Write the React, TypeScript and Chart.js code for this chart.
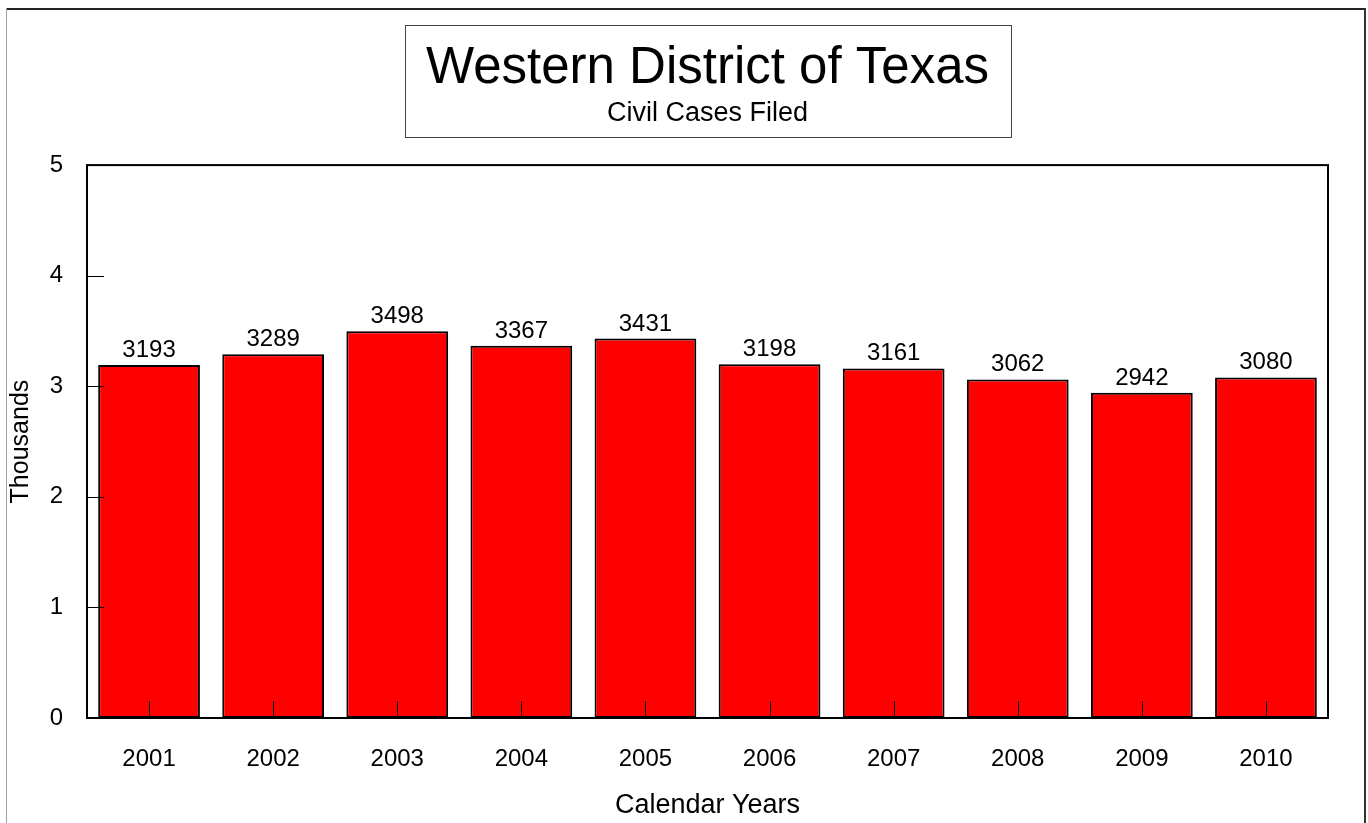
import React, { useEffect, useRef } from "react";
import { Chart, registerables } from "chart.js";

Chart.register(...registerables);

const years = ["2001", "2002", "2003", "2004", "2005", "2006", "2007", "2008", "2009", "2010"];
const casesFiled = [3193, 3289, 3498, 3367, 3431, 3198, 3161, 3062, 2942, 3080];
const yMin = 0;
const yMax = 5000;
const yStep = 1000;

const FONT = "'Liberation Sans', Arial, Helvetica, sans-serif";

const decorPlugin = {
  id: "decor",
  beforeDraw(chart: any) {
    const ctx = chart.ctx;
    const ca = chart.chartArea;
    ctx.save();
    ctx.fillStyle = "#fff";
    ctx.fillRect(0, 0, chart.width, chart.height);
    // outer frame
    ctx.fillStyle = "#222";
    ctx.fillRect(6, 8, 1360, 2);
    ctx.fillStyle = "#a0a0a0";
    ctx.fillRect(6, 8, 1, chart.height);
    ctx.fillStyle = "#333";
    ctx.fillRect(1364, 8, 2, chart.height);
    // title box
    const cx = (ca.left + ca.right) / 2;
    ctx.strokeStyle = "#444";
    ctx.lineWidth = 1;
    ctx.strokeRect(Math.round(cx - 303) + 0.5, 25.5, 606, 112);
    ctx.restore();
  },
  afterDatasetsDraw(chart: any) {
    const ctx = chart.ctx;
    const ca = chart.chartArea;
    const xs = chart.scales.x;
    const ys = chart.scales.y;
    ctx.save();
    // inside tick marks
    ctx.strokeStyle = "#000";
    ctx.lineWidth = 1;
    ctx.beginPath();
    ys.ticks.forEach((_t: any, i: number) => {
      const py = Math.round(ys.getPixelForTick(i)) + 0.5;
      ctx.moveTo(ca.left, py);
      ctx.lineTo(ca.left + 17, py);
    });
    xs.ticks.forEach((_t: any, i: number) => {
      const px = Math.round(xs.getPixelForTick(i)) + 0.5;
      ctx.moveTo(px, ca.bottom);
      ctx.lineTo(px, ca.bottom - 17);
    });
    ctx.stroke();
    // value labels
    ctx.fillStyle = "#000";
    ctx.font = `24px ${FONT}`;
    ctx.textAlign = "center";
    ctx.textBaseline = "alphabetic";
    const meta = chart.getDatasetMeta(0);
    const data = chart.data.datasets[0].data;
    meta.data.forEach((bar: any, i: number) => {
      ctx.fillText(String(data[i]), bar.x, bar.y - 8);
    });
    // plot border
    ctx.lineWidth = 2;
    ctx.strokeRect(ca.left, ca.top, ca.right - ca.left, ca.bottom - ca.top);
    ctx.restore();
  },
};

export default function App() {
  const canvasRef = useRef<HTMLCanvasElement | null>(null);

  useEffect(() => {
    const canvas = canvasRef.current;
    if (!canvas) return;
    const chart = new Chart(canvas, {
      type: "bar",
      data: {
        labels: years,
        datasets: [
          {
            label: "Civil Cases Filed",
            data: casesFiled,
            backgroundColor: "#ff0000",
            borderColor: "#000000",
            borderWidth: 2,
            borderSkipped: false,
            barPercentage: 0.82,
            categoryPercentage: 1,
          },
        ],
      },
      options: {
        responsive: false,
        animation: false,
        devicePixelRatio: 1,
        layout: { padding: { top: 0, right: 40, bottom: 0, left: 0 } },
        plugins: {
          legend: { display: false },
          tooltip: { enabled: false },
          title: {
            display: true,
            fullSize: false,
            text: "Western District of Texas",
            color: "#000",
            font: { size: 51, family: FONT, weight: "normal", lineHeight: 1.1 },
            padding: { top: 41, bottom: 0 },
          },
          subtitle: {
            display: true,
            fullSize: false,
            text: "Civil Cases Filed",
            color: "#000",
            font: { size: 27, family: FONT, weight: "normal", lineHeight: 1.2 },
            padding: { top: 0, bottom: 35.6 },
          },
        },
        scales: {
          x: {
            grid: { display: false, drawTicks: false },
            border: { display: false },
            ticks: {
              color: "#000",
              font: { size: 24, family: FONT },
              padding: 27,
              maxRotation: 0,
              autoSkip: false,
            },
            title: {
              display: true,
              text: "Calendar Years",
              color: "#000",
              font: { size: 27, family: FONT },
              padding: { top: 0, bottom: 1 },
            },
            afterFit: (s: any) => {
              s.height = 105;
            },
          },
          y: {
            min: yMin,
            max: yMax,
            grid: { display: false, drawTicks: false },
            border: { display: false },
            ticks: {
              stepSize: yStep,
              color: "#000",
              font: { size: 24, family: FONT },
              padding: 24,
              callback: (v: any) => String(Number(v) / 1000),
            },
            title: {
              display: true,
              text: "Thousands",
              color: "#000",
              font: { size: 25, family: FONT },
              padding: { top: 6.5, bottom: 0 },
            },
            afterFit: (s: any) => {
              s.width = 87;
            },
          },
        },
      },
      plugins: [decorPlugin],
    });
    return () => chart.destroy();
  }, []);

  return (
    <div style={{ position: "fixed", left: 0, top: 0, width: 1368, height: 823, background: "#fff" }}>
      <canvas ref={canvasRef} width={1368} height={823} style={{ width: 1368, height: 823, display: "block" }} />
    </div>
  );
}
